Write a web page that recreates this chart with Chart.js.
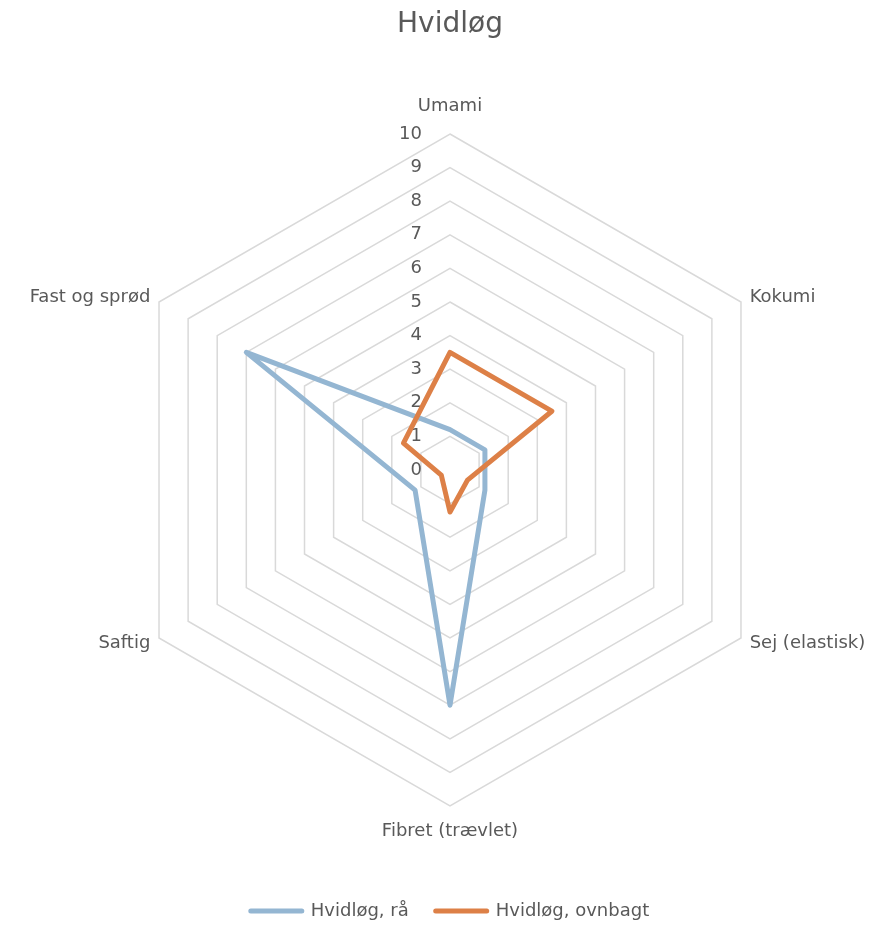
<!DOCTYPE html>
<html>
<head>
<meta charset="utf-8">
<script src="https://cdn.jsdelivr.net/npm/chart.js@4.4.1/dist/chart.umd.min.js"></script>
<style>
html,body{margin:0;padding:0;background:#ffffff;}
#wrap{width:888px;height:926px;}
</style>
</head>
<body>
<div id="wrap"><canvas id="c" width="888" height="926"></canvas></div>
<script>
const chartTitle = 'Hvidløg';
const categories = ['Umami', 'Kokumi', 'Sej (elastisk)', 'Fibret (trævlet)', 'Saftig', 'Fast og sprød'];
const seriesNames = ['Hvidløg, rå', 'Hvidløg, ovnbagt'];
const rawValues = [1.2, 1.2, 1.2, 7, 1.2, 7];
const bakedValues = [3.5, 3.5, 0.6, 1.25, 0.3, 1.6];
const tickLabels = ['0', '1', '2', '3', '4', '5', '6', '7', '8', '9', '10'];

const TEXT = '#595959';
const FONT = '"DejaVu Sans", sans-serif';
const labelPad = [28, 10, 10, 25, 10, 10];

const textPlugin = {
  id: 'radarText',
  beforeDatasetsDraw(chart) {
    const s = chart.scales.r;
    const ctx = chart.ctx;
    ctx.save();
    ctx.fillStyle = TEXT;
    ctx.textBaseline = 'middle';
    ctx.font = '18px ' + FONT;
    ctx.textAlign = 'right';
    tickLabels.forEach((t) => {
      const d = s.getDistanceFromCenterForValue(Number(t));
      ctx.fillText(t, s.xCenter - 28, s.yCenter - d);
    });
    ctx.font = '18px ' + FONT;
    categories.forEach((c, i) => {
      const p = s.getPointPosition(i, s.drawingArea + labelPad[i]);
      const dx = p.x - s.xCenter;
      ctx.textAlign = Math.abs(dx) < 1 ? 'center' : (dx > 0 ? 'left' : 'right');
      ctx.fillText(c, p.x, p.y);
    });
    ctx.restore();
  }
};

new Chart(document.getElementById('c'), {
  type: 'radar',
  data: {
    labels: categories,
    datasets: [
      {
        label: seriesNames[0],
        data: rawValues,
        borderColor: '#94B6D2',
        backgroundColor: '#94B6D2',
        pointBorderColor: '#94B6D2',
        pointBackgroundColor: '#94B6D2',
        borderWidth: 5,
        pointBorderWidth: 5,
        pointRadius: 0,
        pointHoverRadius: 0,
        fill: false,
        tension: 0,
        borderJoinStyle: 'round',
        order: 1
      },
      {
        label: seriesNames[1],
        data: bakedValues,
        borderColor: '#DD8047',
        backgroundColor: '#DD8047',
        pointBorderColor: '#DD8047',
        pointBackgroundColor: '#DD8047',
        borderWidth: 5,
        pointBorderWidth: 5,
        pointRadius: 0,
        pointHoverRadius: 0,
        fill: false,
        tension: 0,
        borderJoinStyle: 'round',
        order: 0
      }
    ]
  },
  options: {
    responsive: false,
    animation: false,
    devicePixelRatio: 1,
    layout: { padding: { left: 114, right: 102, top: 0, bottom: -4 } },
    scales: {
      r: {
        min: 0,
        max: 10,
        ticks: { stepSize: 1, display: false },
        grid: { circular: false, color: '#d9d9d9', lineWidth: 1.5 },
        angleLines: { display: false },
        pointLabels: { display: false }
      }
    },
    plugins: {
      title: {
        display: true,
        text: chartTitle,
        color: TEXT,
        font: { family: FONT, size: 28, weight: 'normal' },
        padding: { top: 8.2, bottom: 23.7 }
      },
      legend: {
        display: true,
        position: 'bottom',
        labels: {
          color: TEXT,
          font: { family: FONT, size: 18 },
          usePointStyle: true,
          pointStyle: 'line',
          pointStyleWidth: 51,
          padding: 27,
          generateLabels: (chart) => Chart.defaults.plugins.legend.labels.generateLabels(chart)
            .map((l) => Object.assign({}, l, { lineCap: 'round', lineWidth: 5, pointStyle: 'line' }))
            .sort((a, b) => a.datasetIndex - b.datasetIndex)
        }
      },
      tooltip: { enabled: false }
    }
  },
  plugins: [textPlugin]
});
</script>
</body>
</html>
